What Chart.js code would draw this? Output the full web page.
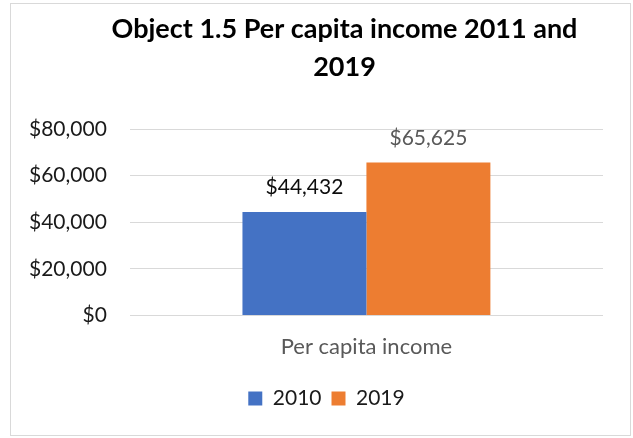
<!DOCTYPE html>
<html>
<head>
<meta charset="utf-8">
<script src="https://cdn.jsdelivr.net/npm/chart.js@4"></script>
<style>
  html, body { margin: 0; padding: 0; background: #fff; overflow: hidden; }
  #wrap { position: relative; width: 633px; height: 438px; }
  #frame { position: absolute; left: 10px; top: 3px; width: 619px; height: 431px;
           border: 1px solid #d9d9d9; pointer-events: none; }
</style>
</head>
<body>
<div id="wrap">
  <canvas id="incomeChart" width="633" height="438"></canvas>
  <div id="frame"></div>
</div>
<script>
// Per capita income, two years side by side
var titleLines = ['Object 1.5 Per capita income 2011 and', '2019'];
var categories = ['Per capita income'];
var seriesNames = ['2010', '2019'];
var income2010 = [44432];
var income2019 = [65625];
var yMin = 0, yMax = 80000, yStep = 20000;

var FONT = 'Lato, "Open Sans", sans-serif';

function dollars(v) {
    return '$' + Number(v).toLocaleString('en-US');
}

// Two-line bold heading, drawn a little right of centre
var headingPlugin = {
    id: 'heading',
    afterDraw: function (chart) {
        var ctx = chart.ctx;
        ctx.save();
        ctx.font = 'bold 27px ' + FONT;
        ctx.fillStyle = '#000';
        ctx.textAlign = 'center';
        ctx.textBaseline = 'alphabetic';
        var x = chart.width / 2 + 28;
        ctx.fillText(titleLines[0], x, 38);
        ctx.fillText(titleLines[1], x, 76);
        ctx.restore();
    }
};

// Nudge the legend box right so it sits under the plot
var legendShift = {
    id: 'legendShift',
    afterLayout: function (chart) {
        if (chart.legend) {
            chart.legend.left += 44;
        }
    }
};

// Value labels above each bar
var valueLabels = {
    id: 'valueLabels',
    afterDatasetsDraw: function (chart) {
        var ctx = chart.ctx;
        ctx.save();
        ctx.font = '21px ' + FONT;
        ctx.textAlign = 'center';
        ctx.textBaseline = 'alphabetic';
        chart.data.datasets.forEach(function (ds, i) {
            chart.getDatasetMeta(i).data.forEach(function (bar, j) {
                ctx.fillStyle = ds.labelColor;
                ctx.fillText(dollars(ds.data[j]), bar.x, bar.y - 18);
            });
        });
        ctx.restore();
    }
};

var ctxIncome = document.getElementById('incomeChart').getContext('2d');
var incomeChart = new Chart(ctxIncome, {
    type: 'bar',
    data: {
        labels: categories,
        datasets: [{
            label: seriesNames[0],
            data: income2010,
            backgroundColor: '#4472C4',
            labelColor: '#0d0d0d'
        }, {
            label: seriesNames[1],
            data: income2019,
            backgroundColor: '#ED7D31',
            labelColor: '#595959'
        }]
    },
    options: {
        responsive: false,
        animation: false,
        layout: {
            padding: { left: 6, right: 30, top: 129, bottom: 19 }
        },
        categoryPercentage: 0.524,
        barPercentage: 1,
        scales: {
            x: {
                grid: { display: false, drawTicks: false },
                border: { display: false },
                ticks: {
                    color: '#595959',
                    padding: 18,
                    font: { family: FONT, size: 22 }
                }
            },
            y: {
                min: yMin,
                max: yMax,
                grid: { color: '#d9d9d9', lineWidth: 1, drawTicks: false },
                border: { display: false },
                ticks: {
                    stepSize: yStep,
                    padding: 23,
                    color: '#1a1a1a',
                    font: { family: FONT, size: 21 },
                    callback: function (v) { return dollars(v); }
                }
            }
        },
        plugins: {
            title: { display: false },
            tooltip: { enabled: false },
            legend: {
                position: 'bottom',
                labels: {
                    boxWidth: 14,
                    boxHeight: 14,
                    padding: 10,
                    color: '#1a1a1a',
                    font: { family: FONT, size: 21 }
                }
            }
        }
    },
    plugins: [headingPlugin, legendShift, valueLabels]
});
</script>
</body>
</html>
